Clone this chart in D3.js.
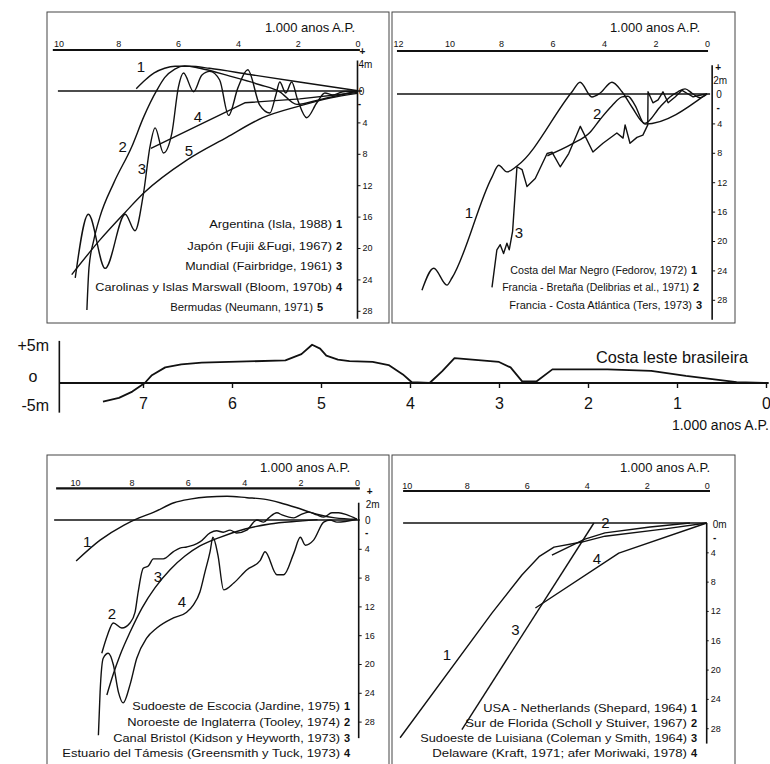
<!DOCTYPE html>
<html>
<head>
<meta charset="utf-8">
<script src="https://cdn.jsdelivr.net/npm/d3@7"></script>
<style>
body { margin: 0; background: #fff; }
svg text { font-family: "Liberation Sans", Arial, sans-serif; fill: #111; }
</style>
</head>
<body>
<script>
// curves are [thousand years B.P., level in m]

// top left
const ticksA = [10, 8, 6, 4, 2, 0];
const argentina = [[7.4,0.3],[7.1,1.4],[6.8,2.3],[6.45,2.9],[6.1,3.15],[5.6,3.15],[4.95,2.9],[3.6,2.1],[1.95,1.15],[0,0.05]];
const japon = [[9.05,-27.9],[8.98,-22.5],[8.82,-19],[8.62,-16.1],[8.15,-11.7],[7.55,-7.1],[7.15,-3.3],[6.71,0.1],[6.45,1.7],[6.11,2.8],[5.78,3.2],[5.27,2.9],[4.27,1.9],[3.27,0.8],[2.6,-0.1],[2.03,-1.7],[1.26,-1.1],[0,0]];
const mundial = [[9.44,-23.8],[9.0,-15.7],[8.44,-22.6],[7.77,-15.7],[7.44,-17.8],[7.16,-13.1],[6.94,-7.1],[6.77,-4.7],[6.49,-7.9],[6.21,-5.4],[5.99,0.5],[5.82,2.3],[5.48,-0.1],[5.21,2.0],[4.94,2.5],[4.61,1.4],[4.31,-3.1],[4.0,0.4],[3.67,2.7],[3.27,-1.8],[2.93,-2.8],[2.73,-0.5],[2.6,1.15],[2.4,-0.25],[2.2,1.15],[2.0,-1.15],[1.7,-3.4],[1.36,-1.5],[1.09,-0.25],[0.83,-0.5],[0.49,-0.1],[0,0]];
const carolinas = [[6.91,-7.3],[3.77,-1.5],[1.93,-1.0],[0,-0.2]];
const bermudas = [[9.56,-23.4],[8.62,-19.0],[7.78,-15.5],[7.15,-13.0],[5.71,-8.8],[4.37,-5.9],[3.17,-3.4],[1.93,-1.9],[0.93,-0.9],[0,-0.3]];
const legendA = ["Argentina (Isla, 1988)", "Japón (Fujii &Fugi, 1967)", "Mundial (Fairbridge, 1961)", "Carolinas y Islas Marswall (Bloom, 1970b)", "Bermudas (Neumann, 1971)"];
const labelsA = [["1",7.24,3.06],["2",7.85,-7.1],["3",7.21,-9.9],["4",5.34,-3.3],["5",5.64,-7.6]];

// top right
const ticksB = [12, 10, 8, 6, 4, 2, 0];
const marNegro = [[11.07,-26.7],[10.61,-23.7],[10.1,-26.0],[9.9,-25.0],[8.35,-11.3],[8.09,-9.7],[7.77,-10.6],[7.38,-9.8],[5.24,0.3],[4.93,1.6],[4.47,-0.4],[4.16,0.1],[3.69,1.6],[3.3,0.3],[2.91,-1.8],[2.41,-4.0],[1.83,-1.8],[1.44,-0.4],[1.13,0.3],[0.85,0.7],[0.58,0.1],[0.27,-0.5],[0,0]];
const bretana = [[6.2,-8.4],[5.24,-6.8],[4.54,-5.2],[4.16,-3.5],[3.69,-1.6],[3.3,-0.4],[3.07,-0.3],[2.8,-1.5],[2.41,-4.1],[0,0.05]];
const atlantica = [[8.35,-26.3],[8.16,-21.2],[8.03,-20.5],[7.9,-21.7],[7.77,-20.3],[7.68,-21.2],[7.55,-18.7],[7.38,-9.9],[7.18,-10.3],[6.99,-12.6],[6.67,-11.5],[6.21,-8.1],[6.02,-7.9],[5.7,-9.9],[5.37,-8.1],[4.92,-4.4],[4.43,-7.9],[4.04,-6.7],[3.5,-5.3],[3.26,-6.0],[3.18,-4.2],[2.99,-6.7],[2.72,-5.9],[2.49,-5.6],[2.3,-4.2],[2.29,0.3],[2.1,-1.2],[1.9,-0.8],[1.71,0.3],[1.51,-1.2],[1.24,-0.4],[0.97,0.5],[0.78,0.1],[0.54,-0.4],[0.19,-0.1],[0,0]];
const legendB = ["Costa del Mar  Negro (Fedorov, 1972)", "Francia - Bretaña (Delibrias et al., 1971)", "Francia - Costa Atlántica (Ters, 1973)"];
const labelsB = [["1",9.25,-16.2],["2",4.27,-2.7],["3",7.3,-18.8]];

// bottom left
const ticksC = [10, 8, 6, 4, 2, 0];
const escocia = [[9.96,-5.7],[9.11,-2.8],[8.26,-0.7],[7.73,0.3],[7.2,1.1],[6.49,2.4],[5.92,2.9],[5.32,3.2],[4.61,3.3],[3.9,3.1],[3.3,2.9],[2.73,2.4],[2.13,1.7],[1.67,1.1],[1.31,0.7],[0.78,0.3],[0,0.1]];
const inglaterra = [[9.05,-18.5],[8.85,-16.0],[8.64,-14.3],[8.34,-15.0],[8.05,-14.3],[7.87,-12.8],[7.76,-10.0],[7.58,-6.7],[7.4,-6.4],[7.22,-5.4],[6.87,-5.4],[6.51,-4.4],[6.28,-3.9],[6.04,-3.75],[5.8,-3.5],[5.57,-3.05],[5.21,-1.8],[4.98,-1.5],[4.74,-1.7],[4.5,-1.4],[4.27,-1.8],[3.91,-1.4],[3.55,0],[3.31,-0.3],[3.13,0.3],[2.84,1.0],[2.66,0.7],[2.24,0.3],[2.01,0.7],[1.71,1.1],[1.42,0.7],[1.18,0.4],[0.89,1.0],[0.65,1.0],[0.35,0.7],[0,0.1]];
const bristol = [[8.87,-24.3],[8.65,-21.5],[8.4,-18.75],[8.05,-15.6],[7.62,-12.2],[7.16,-9.4],[6.63,-6.9],[6.1,-5.0],[5.57,-3.6],[4.86,-2.4],[3.97,-1.25],[3.09,-0.55],[2.02,-0.15],[1.4,0.05]];
const tamesis = [[9.17,-29.9],[9.11,-23.9],[9.0,-19.2],[8.82,-18.5],[8.64,-20.1],[8.46,-23.9],[8.29,-25.4],[8.05,-22.9],[7.81,-19.2],[7.46,-16.4],[7.1,-15.0],[6.51,-13.6],[6.04,-12.8],[5.8,-11.8],[5.57,-10.0],[5.39,-7.2],[5.21,-4.4],[5.11,-2.4],[4.93,-4.9],[4.73,-9.7],[4.37,-8.75],[3.9,-6.9],[3.43,-5.6],[3.26,-4.4],[2.84,-7.6],[2.6,-7.6],[2.24,-4.6],[2.01,-2.4],[1.83,-3.5],[1.54,-2.8],[1.18,-0.3],[0.95,0],[0.71,-0.3],[0,0.1]];
const legendC = ["Sudoeste de Escocia (Jardine, 1975)", "Noroeste de Inglaterra (Tooley, 1974)", "Canal Bristol (Kidson y Heyworth, 1973)", "Estuario del Támesis (Greensmith y Tuck, 1973)"];
const labelsC = [["1",9.57,-3.0],["2",8.69,-13.0],["3",7.06,-7.9],["4",6.21,-11.3]];

// bottom right
const ticksD = [10, 8, 6, 4, 2, 0];
const usaNetherlands = [[10.22,-29.3],[7.16,-12.3],[6.16,-7.1],[5.59,-4.6],[5.09,-3.3],[4.16,-2.6],[3.39,-1.8],[1.39,-0.8],[0,0]];
const florida = [[5.16,-4.4],[4.06,-2.2],[3.39,-1.35],[1.89,-0.55],[0.56,0]];
const luisiana = [[8.16,-28.2],[3.76,0]];
const delaware = [[5.71,-11.6],[2.93,-4.1],[0,0]];
const legendD = ["USA - Netherlands (Shepard, 1964)", "Sur de Florida (Scholl y Stuiver, 1967)", "Sudoeste de Luisiana (Coleman y Smith, 1964)", "Delaware (Kraft, 1971; afer  Moriwaki, 1978)"];
const labelsD = [["1",8.66,-18.0],["2",3.38,0],["3",6.38,-14.6],["4",3.66,-4.8]];

// middle strip
const ticksBrasil = [7, 6, 5, 4, 3, 2, 1, 0];
const brasil = [[7.45,-2.4],[7.27,-1.9],[7.12,-1.1],[6.98,0],[6.9,1.0],[6.75,2.0],[6.57,2.4],[6.34,2.6],[5.4,2.9],[5.22,3.7],[5.1,4.9],[5.01,4.4],[4.94,3.5],[4.81,3.0],[4.68,2.8],[4.42,2.7],[4.24,2.3],[4.08,1.1],[3.98,0.1],[3.78,0],[3.64,1.5],[3.5,3.2],[3.0,2.7],[2.87,2.0],[2.74,0.2],[2.58,0.2],[2.4,1.75],[1.78,1.75],[1.29,1.55],[0.9,0.9],[0.33,0.1],[0,0]];

const depthTicks = [-4, -8, -12, -16, -20, -24, -28];

const svg = d3.select('body').append('svg').attr('width', 770).attr('height', 764);

function drawPanel(c) {
    const x = d3.scaleLinear().domain([0, c.span]).range(c.xr);
    const y = d3.scaleLinear().domain([0, -28]).range(c.yr);

    svg.append('rect')
        .attr('x', c.box[0]).attr('y', c.box[1])
        .attr('width', c.box[2]).attr('height', c.box[3])
        .attr('fill', 'none').attr('stroke', '#444').attr('stroke-width', 1);

    svg.append('text')
        .attr('x', c.title[0]).attr('y', c.title[1])
        .attr('text-anchor', 'end').attr('font-size', 13)
        .text('1.000 anos A.P.');

    let top = svg.append('g')
        .attr('transform', `translate(0,${c.topY})`)
        .call(d3.axisTop(x).tickValues(c.ticks).tickSize(0).tickPadding(c.pad));
    top.select('.domain').remove();
    top.selectAll('text').attr('font-size', 9);
    svg.append('line')
        .attr('x1', x(c.topExt[0])).attr('x2', x(c.topExt[1]))
        .attr('y1', c.topY).attr('y2', c.topY)
        .attr('stroke', '#111').attr('stroke-width', 2.2);

    svg.append('line')
        .attr('x1', x(c.zeroExt[0])).attr('x2', x(c.zeroExt[1]))
        .attr('y1', y(0)).attr('y2', y(0))
        .attr('stroke', '#111').attr('stroke-width', 1.6);

    let ax = x(c.axisAt);
    let right = svg.append('g')
        .attr('transform', `translate(${ax},0)`)
        .call(d3.axisRight(y).tickValues(depthTicks).tickSize(c.tick).tickPadding(c.tickPad).tickFormat(d => Math.abs(d)));
    right.select('.domain').remove();
    right.selectAll('text').attr('font-size', 9);
    right.selectAll('line').attr('stroke', '#111');
    svg.append('line')
        .attr('x1', ax).attr('x2', ax)
        .attr('y1', y(c.axisExt[0])).attr('y2', y(c.axisExt[1]))
        .attr('stroke', '#111').attr('stroke-width', 1.6);

    c.signs.forEach(s => {
        let sign = s[0] == '+' || s[0] == '-';
        svg.append('text')
            .attr('x', ax + s[2]).attr('y', y(s[1]))
            .attr('dy', '0.35em')
            .attr('text-anchor', s[3])
            .attr('font-size', 10)
            .attr('font-weight', sign ? 'bold' : 'normal')
            .text(s[0]);
    });

    c.series.forEach(s => {
        svg.append('path')
            .datum(s.d)
            .attr('d', d3.line().x(d => x(d[0])).y(d => y(d[1])).curve(s.smooth ? d3.curveMonotoneX : d3.curveLinear))
            .attr('fill', 'none')
            .attr('stroke', '#111')
            .attr('stroke-width', 1.4)
            .attr('stroke-linejoin', 'round');
    });

    c.labels.forEach(l => {
        svg.append('text')
            .attr('x', x(l[1])).attr('y', y(l[2]))
            .attr('dy', '0.36em').attr('text-anchor', 'middle')
            .attr('font-size', 15)
            .text(l[0]);
    });

    // legend: name squeezed to the width it has in the figure, bold number after it
    c.legend.forEach((name, i) => {
        let g = svg.append('g');
        let t = g.append('text')
            .attr('text-anchor', 'end').attr('dy', '0.35em')
            .attr('font-size', 11)
            .text(name);
        let w = t.node().getComputedTextLength();
        let sx = (c.legendW[i] - 10) / w;
        g.attr('transform', `translate(${c.legendX[i] - 10},${c.legendY[i]}) scale(${sx},1)`);
        svg.append('text')
            .attr('x', c.legendX[i]).attr('y', c.legendY[i])
            .attr('dy', '0.35em').attr('text-anchor', 'end')
            .attr('font-size', 11).attr('font-weight', 'bold')
            .text(i + 1);
    });
}

drawPanel({
    box: [47, 12, 342, 311], span: 10, xr: [357.5, 58.5], yr: [91, 310.8],
    ticks: ticksA, topY: 50, pad: 3.5, topExt: [10.19, -0.08], zeroExt: [10.02, -0.15],
    axisAt: 0, axisExt: [3.9, -29], tick: 3, tickPad: 2,
    signs: [['+', 5.0, 5, 'middle'], ['4m', 3.4, 1, 'start'], ['0', 0, 4, 'middle'], ['-', -1.6, 2, 'middle']],
    title: [355, 31.5],
    series: [{d: argentina, smooth: true}, {d: japon, smooth: true}, {d: mundial, smooth: true}, {d: carolinas}, {d: bermudas, smooth: true}],
    labels: labelsA, legend: legendA,
    legendX: [342, 342, 342, 342, 323], legendY: [224, 246, 266, 287, 307], legendW: [133, 155, 157, 247, 153]
});

drawPanel({
    box: [392, 12, 343, 311], span: 12, xr: [707, 398], yr: [94, 299.8],
    ticks: ticksB, topY: 51, pad: 4.5, topExt: [12.04, -0.04], zeroExt: [12.04, -0.12],
    axisAt: -0.2, axisExt: [3.9, -30.7], tick: 3, tickPad: 2,
    signs: [['+', 3.65, 6, 'middle'], ['2m', 1.9, 1, 'start'], ['0', -0.1, 7, 'middle'], ['-', -1.8, 6, 'middle']],
    title: [700, 31.5],
    series: [{d: marNegro, smooth: true}, {d: bretana, smooth: true}, {d: atlantica}],
    labels: labelsB, legend: legendB,
    legendX: [697, 699, 702], legendY: [270, 287, 305], legendW: [187, 197, 193]
});

drawPanel({
    box: [47, 455, 342, 320], span: 10, xr: [357, 75], yr: [520, 721.6],
    ticks: ticksC, topY: 488.3, pad: 2, topExt: [10.67, -0.1], zeroExt: [10.74, -0.1],
    axisAt: -0.06, axisExt: [2.4, -30.3], tick: 3, tickPad: 3,
    signs: [['+', 4.0, 11, 'middle'], ['2m', 2.2, 7, 'start'], ['0', 0, 9, 'middle'], ['-', -1.8, 8, 'middle']],
    title: [350, 471.5],
    series: [{d: escocia, smooth: true}, {d: inglaterra, smooth: true}, {d: bristol, smooth: true}, {d: tamesis, smooth: true}],
    labels: labelsC, legend: legendC,
    legendX: [350, 350, 350, 350], legendY: [706, 722, 738, 753], legendW: [218, 223, 237, 288]
});

drawPanel({
    box: [392, 455, 343, 320], span: 10, xr: [706.7, 406.7], yr: [523, 728.2],
    ticks: ticksD, topY: 491, pad: 2.5, topExt: [10.12, -0.11], zeroExt: [10.12, 0],
    axisAt: 0, axisExt: [0, -30.1], tick: 2, tickPad: 2,
    signs: [['0m', -0.2, 6, 'start'], ['-', -2.0, 8, 'middle']],
    title: [710, 471.5],
    series: [{d: usaNetherlands}, {d: florida}, {d: luisiana}, {d: delaware}],
    labels: labelsD, legend: legendD,
    legendX: [697, 697, 697, 697], legendY: [708, 723, 738, 753], legendW: [214, 232, 277, 265]
});

// middle strip: Costa leste brasileira
const xb = d3.scaleLinear().domain([0, 7]).range([766, 143]);
const yb = d3.scaleLinear().domain([0, 5]).range([383, 344]);

svg.append('line')
    .attr('x1', xb(7.94)).attr('x2', xb(7.94))
    .attr('y1', yb(5.4)).attr('y2', yb(-3.8))
    .attr('stroke', '#111').attr('stroke-width', 1.6);

let bottom = svg.append('g')
    .attr('transform', `translate(0,${yb(0)})`)
    .call(d3.axisBottom(xb).tickValues(ticksBrasil).tickSize(5).tickPadding(10).tickFormat(d3.format('d')));
bottom.select('.domain').remove();
bottom.selectAll('line').attr('stroke', '#111').attr('stroke-width', 1.4);
bottom.selectAll('text').attr('font-size', 16);

svg.append('line')
    .attr('x1', xb(7.94)).attr('x2', xb(-0.03))
    .attr('y1', yb(0)).attr('y2', yb(0))
    .attr('stroke', '#111').attr('stroke-width', 2);

svg.append('path')
    .datum(brasil)
    .attr('d', d3.line().x(d => xb(d[0])).y(d => yb(d[1])))
    .attr('fill', 'none').attr('stroke', '#111').attr('stroke-width', 1.8)
    .attr('stroke-linejoin', 'round');

svg.append('text').attr('x', 49).attr('y', 345).attr('dy', '0.35em').attr('text-anchor', 'end').attr('font-size', 16).text('+5m');
svg.append('text').attr('x', 33).attr('y', 376).attr('dy', '0.35em').attr('text-anchor', 'middle').attr('font-size', 16).text('o');
svg.append('text').attr('x', 49).attr('y', 405).attr('dy', '0.35em').attr('text-anchor', 'end').attr('font-size', 16).text('-5m');
svg.append('text').attr('x', 596).attr('y', 357).attr('dy', '0.35em').attr('font-size', 16)
    .attr('textLength', 152).attr('lengthAdjust', 'spacingAndGlyphs').text('Costa leste brasileira');
svg.append('text').attr('x', 769).attr('y', 425).attr('dy', '0.35em').attr('text-anchor', 'end').attr('font-size', 14).text('1.000 anos A.P.');
</script>
</body>
</html>
